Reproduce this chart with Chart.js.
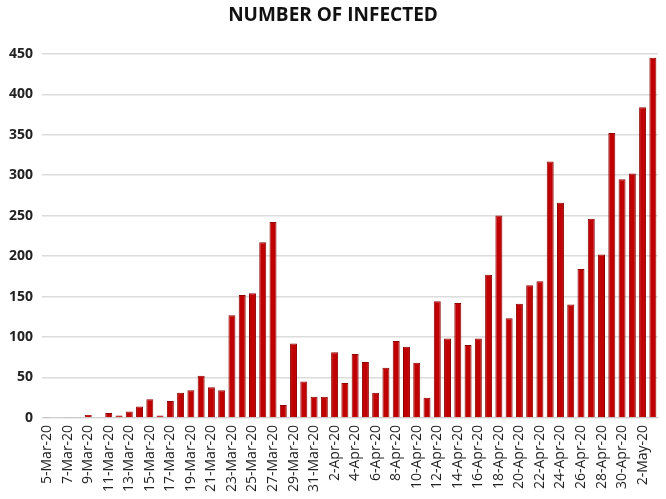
<!DOCTYPE html>
<html>
<head>
<meta charset="utf-8">
<script src="https://cdn.jsdelivr.net/npm/chart.js@4/dist/chart.umd.min.js"></script>
<style>
  html, body { margin: 0; padding: 0; background: #fff; }
  #wrap { width: 666px; height: 499px; }
</style>
</head>
<body>
<div id="wrap"><canvas id="chart"></canvas></div>
<script>
const days = [
  '5-Mar-20','6-Mar-20','7-Mar-20','8-Mar-20','9-Mar-20','10-Mar-20','11-Mar-20','12-Mar-20','13-Mar-20','14-Mar-20',
  '15-Mar-20','16-Mar-20','17-Mar-20','18-Mar-20','19-Mar-20','20-Mar-20','21-Mar-20','22-Mar-20','23-Mar-20','24-Mar-20',
  '25-Mar-20','26-Mar-20','27-Mar-20','28-Mar-20','29-Mar-20','30-Mar-20','31-Mar-20','1-Apr-20','2-Apr-20','3-Apr-20',
  '4-Apr-20','5-Apr-20','6-Apr-20','7-Apr-20','8-Apr-20','9-Apr-20','10-Apr-20','11-Apr-20','12-Apr-20','13-Apr-20',
  '14-Apr-20','15-Apr-20','16-Apr-20','17-Apr-20','18-Apr-20','19-Apr-20','20-Apr-20','21-Apr-20','22-Apr-20','23-Apr-20',
  '24-Apr-20','25-Apr-20','26-Apr-20','27-Apr-20','28-Apr-20','29-Apr-20','30-Apr-20','1-May-20','2-May-20','3-May-20'
];

const infected = [
  1, 0, 1, 1, 4, 0, 6, 3, 8, 14,
  23, 3, 21, 31, 34, 52, 38, 34, 127, 152,
  154, 217, 242, 16, 92, 45, 26, 26, 81, 43,
  79, 69, 31, 62, 95, 88, 68, 25, 144, 98,
  142, 90, 98, 177, 250, 123, 141, 164, 169, 317,
  266, 140, 184, 246, 202, 352, 295, 302, 384, 445
];

const yTicks = [0, 50, 100, 150, 200, 250, 300, 350, 400, 450];

new Chart(document.getElementById('chart').getContext('2d'), {
  type: 'bar',
  data: {
    labels: days,
    datasets: [{
      label: 'Infected',
      data: infected,
      backgroundColor: '#c00000',
      borderColor: '#8e0000',
      borderWidth: 1,
      barPercentage: 0.68,
      categoryPercentage: 1.0
    }]
  },
  options: {
    responsive: true,
    maintainAspectRatio: false,
    animation: false,
    layout: { padding: { left: 0, right: 0, top: 0, bottom: 0 } },
    plugins: {
      legend: { display: false },
      tooltip: { enabled: false },
      title: {
        display: true,
        text: 'NUMBER OF INFECTED',
        color: '#111',
        font: { family: 'Open Sans', size: 19, weight: 'bold' },
        padding: { top: 4, bottom: 27 }
      }
    },
    scales: {
      x: {
        grid: { display: false, drawTicks: false },
        border: { color: '#d0d0d0' },
        afterFit: function (scale) {
          scale.paddingRight = 8;
        },
        ticks: {
          autoSkip: false,
          minRotation: 90,
          maxRotation: 90,
          padding: 7,
          color: '#222',
          font: { family: 'Open Sans', size: 14 },
          callback: function (value, index) {
            return index % 2 === 0 ? days[index] : '';
          }
        }
      },
      y: {
        min: 0,
        max: 450,
        afterBuildTicks: function (axis) {
          axis.ticks = yTicks.map(v => ({ value: v }));
        },
        grid: { color: '#dcdcdc', lineWidth: 1.5, drawTicks: false },
        border: { display: false },
        ticks: {
          padding: 9,
          color: '#222',
          font: { family: 'Open Sans', size: 14, weight: 'bold' }
        }
      }
    }
  }
});
</script>
</body>
</html>
